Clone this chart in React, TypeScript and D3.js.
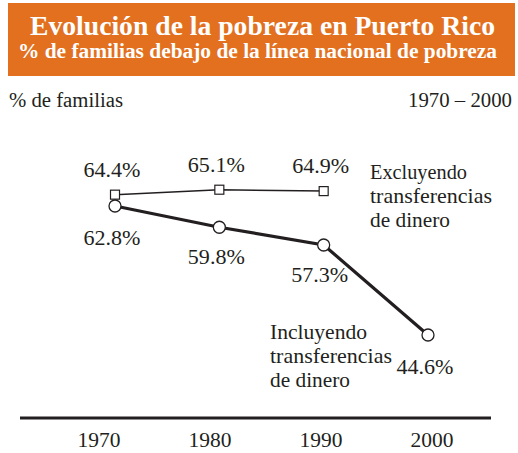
import React from "react";
import * as d3 from "d3";

const years = [1970, 1980, 1990, 2000];
const excluding = [64.4, 65.1, 64.9];
const including = [62.8, 59.8, 57.3, 44.6];
const excludingLabels = ["64.4%", "65.1%", "64.9%"];
const includingLabels = ["62.8%", "59.8%", "57.3%", "44.6%"];
const title = "Evolución de la pobreza en Puerto Rico";
const subtitle = "% de familias debajo de la línea nacional de pobreza";
const exNote = ["Excluyendo", "transferencias", "de dinero"];
const inNote = ["Incluyendo", "transferencias", "de dinero"];

const W = 518, H = 453;
const ff = { fontFamily: "'Liberation Serif', 'Times New Roman', serif" };
const ink = "#231f20";
const noteWidths = [97, 122, 80];

export default function App() {
  const x = d3.scaleLinear().domain([1970, 2000]).range([115, 428]);
  const xLab = d3.scaleLinear().domain([1970, 2000]).range([99, 432]);
  const y = d3.scaleLinear().domain([44.6, 62.8]).range([335, 206]);
  const lineEx = d3.line<number>().x((_, i) => x(years[i])).y((d) => y(d));
  const lineIn = d3.line<number>().x((_, i) => x(years[i])).y((d) => y(d));

  const exLabelOffsets = [-18, -18, -18];
  const inLabelPos = [
    { dx: -3, dy: 39 },
    { dx: -3, dy: 37 },
    { dx: -4, dy: 37 },
    { dx: -3, dy: 39 },
  ];

  return (
    <svg width={W} height={H} style={{ position: "absolute", left: 0, top: 0 }}>
      <rect x={0} y={0} width={W} height={H} fill="#fff" />
      <rect x={8} y={3} width={507} height={73} fill="#E2701F" />
      <text x={262.5} y={35} textAnchor="middle" fill="#fff" fontWeight="bold" fontSize={27} style={ff} textLength={465} lengthAdjust="spacingAndGlyphs">{title}</text>
      <text x={257.5} y={58} textAnchor="middle" fill="#fff" fontWeight="bold" fontSize={20} style={ff} textLength={479} lengthAdjust="spacingAndGlyphs">{subtitle}</text>

      <text x={9} y={107} fontSize={20} fill={ink} style={ff} textLength={114} lengthAdjust="spacingAndGlyphs">% de familias</text>
      <text x={512} y={107} fontSize={20} fill={ink} textAnchor="end" style={ff} textLength={104} lengthAdjust="spacingAndGlyphs">1970 – 2000</text>

      <path d={lineEx(excluding) || ""} fill="none" stroke={ink} strokeWidth={1.5} />
      <path d={lineIn(including) || ""} fill="none" stroke={ink} strokeWidth={3.2} />

      {excluding.map((v, i) => (
        <rect key={"s" + i} x={x(years[i]) - 4.5} y={y(v) - 4.5} width={9} height={9} fill="#fff" stroke={ink} strokeWidth={1.2} />
      ))}
      {including.map((v, i) => (
        <circle key={"c" + i} cx={x(years[i])} cy={y(v)} r={6} fill="#fff" stroke={ink} strokeWidth={1.3} />
      ))}

      {excluding.map((v, i) => (
        <text key={"el" + i} x={x(years[i]) - 3} y={y(v) + exLabelOffsets[i]} textAnchor="middle" fontSize={21} fill={ink} style={ff} textLength={57} lengthAdjust="spacingAndGlyphs">{excludingLabels[i]}</text>
      ))}
      {including.map((v, i) => (
        <text key={"il" + i} x={x(years[i]) + inLabelPos[i].dx} y={y(v) + inLabelPos[i].dy} textAnchor="middle" fontSize={21} fill={ink} style={ff} textLength={57} lengthAdjust="spacingAndGlyphs">{includingLabels[i]}</text>
      ))}

      {exNote.map((t, i) => (
        <text key={"en" + i} x={370} y={179 + i * 24} fontSize={21} fill={ink} style={ff} textLength={noteWidths[i]} lengthAdjust="spacingAndGlyphs">{t}</text>
      ))}
      {inNote.map((t, i) => (
        <text key={"in" + i} x={270} y={339 + i * 24} fontSize={21} fill={ink} style={ff} textLength={noteWidths[i]} lengthAdjust="spacingAndGlyphs">{t}</text>
      ))}

      <line x1={20} x2={491} y1={418} y2={418} stroke={ink} strokeWidth={3} />
      {years.map((yr) => (
        <text key={yr} x={xLab(yr)} y={447} textAnchor="middle" fontSize={20} fill={ink} style={ff} textLength={43} lengthAdjust="spacingAndGlyphs">{yr}</text>
      ))}
    </svg>
  );
}
